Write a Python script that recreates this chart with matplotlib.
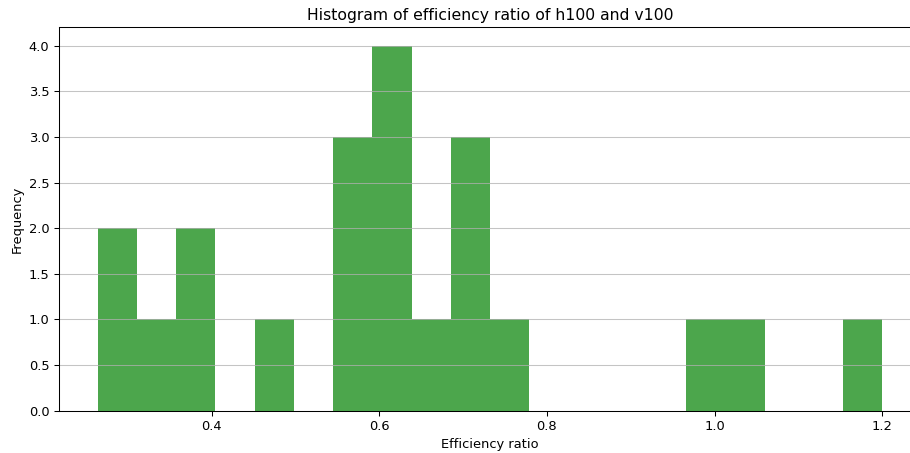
import numpy as np
import matplotlib
matplotlib.use("Agg")
import matplotlib.pyplot as plt

# histogram of efficiency ratio, 20 bins between the min and max value
RATIO_MIN = 0.2643
RATIO_MAX = 1.2
BIN_COUNTS = [2, 1, 2, 0, 1, 0, 3, 4, 1, 3, 1, 0, 0, 0, 0, 1, 1, 0, 0, 1]

OUT_PNG = "out.png"
DPI = 93.6


def main():
    edges = np.linspace(RATIO_MIN, RATIO_MAX, len(BIN_COUNTS) + 1)

    fig = plt.figure(figsize=(910 / DPI, 453 / DPI), dpi=DPI)
    # right edge of the axes lies just outside the saved image
    ax = fig.add_axes([0.0643, 0.0938, 1.0126 - 0.0643, 0.9393 - 0.0938])

    ax.hist(edges[:-1], bins=edges, weights=BIN_COUNTS, color="green", alpha=0.7)
    ax.grid(axis="y", alpha=0.75)
    ax.set_xlabel("Efficiency ratio")
    ax.set_ylabel("Frequency")
    ax.set_title("Histogram of efficiency ratio of h100 and v100")

    fig.savefig(OUT_PNG, dpi=DPI)


if __name__ == "__main__":
    main()
